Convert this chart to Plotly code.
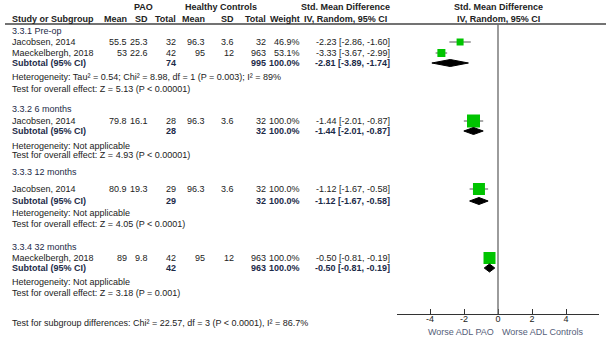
import plotly.graph_objects as go

OFF = 0
W, H = 611, 347
AXIS_Y = 314

# ---------------- data ----------------
subgroups = ["3.3.1 Pre-op", "3.3.2 6 months", "3.3.3 12 months", "3.3.4 32 months"]
studies = [
    ["Jacobsen, 2014", "Maeckelbergh, 2018"],
    ["Jacobsen, 2014"],
    ["Jacobsen, 2014"],
    ["Maeckelbergh, 2018"],
]
pao_mean = [["55.5", "53"], ["79.8"], ["80.9"], ["89"]]
pao_sd = [["25.3", "22.6"], ["16.1"], ["19.3"], ["9.8"]]
pao_n = [["32", "42"], ["28"], ["29"], ["42"]]
hc_mean = [["96.3", "95"], ["96.3"], ["96.3"], ["95"]]
hc_sd = [["3.6", "12"], ["3.6"], ["3.6"], ["12"]]
hc_n = [["32", "963"], ["32"], ["32"], ["963"]]
weights = [["46.9%", "53.1%"], ["100.0%"], ["100.0%"], ["100.0%"]]
smd = [[-2.23, -3.33], [-1.44], [-1.12], [-0.50]]
smd_lo = [[-2.86, -3.67], [-2.01], [-1.67], [-0.81]]
smd_hi = [[-1.60, -2.99], [-0.87], [-0.58], [-0.19]]
sub_pao_n = ["74", "28", "29", "42"]
sub_hc_n = ["995", "32", "32", "963"]
sub_smd = [-2.81, -1.44, -1.12, -0.50]
sub_lo = [-3.89, -2.01, -1.67, -0.81]
sub_hi = [-1.74, -0.87, -0.58, -0.19]
heterogeneity = [
    "Heterogeneity: Tau² = 0.54; Chi² = 8.98, df = 1 (P = 0.003); I² = 89%",
    "Heterogeneity: Not applicable",
    "Heterogeneity: Not applicable",
    "Heterogeneity: Not applicable",
]
overall = [
    "Test for overall effect: Z = 5.13 (P < 0.00001)",
    "Test for overall effect: Z = 4.93 (P < 0.00001)",
    "Test for overall effect: Z = 4.05 (P < 0.0001)",
    "Test for overall effect: Z = 3.18 (P = 0.001)",
]
subgroup_test = "Test for subgroup differences: Chi² = 22.57, df = 3 (P < 0.0001), I² = 86.7%"
x_ticks = [-4, -2, 0, 2, 4]
x_title_left = "Worse ADL PAO"
x_title_right = "Worse ADL Controls"

# ---------------- layout (window pixel rows) ----------------
head_y = [31, 109, 172, 247]
study_y = [[42, 53], [121], [189], [258]]
sub_y = [63, 131, 201, 268]
het_y = [77, 146, 213, 282]
ov_y = [89, 155, 224, 293]
sq_size = [[7, 8], [13], [12], [12]]
dia_h = [7, 7, 7, 8]

FONT = "Liberation Sans, Arial, sans-serif"
FS = 9
TXT = "#222222"
NAVY = "#1c2a48"
GREEN = "#00c400"

fig = go.Figure()
ann = []


def px(x):
    return (x - OFF) / W


def py(y):
    return 1 - (y - OFF) / H


def text(x, y, s, anchor="left", bold=False, color=TXT, size=FS):
    if bold:
        s = "<b>" + s + "</b>"
    ann.append(dict(x=px(x), y=py(y), xref="paper", yref="paper", text=s,
                    showarrow=False, xanchor=anchor, yanchor="middle",
                    borderpad=0, borderwidth=0,
                    font=dict(family=FONT, size=size, color=color)))


# headers
text(143, 7, "PAO", "center", True)
text(221, 7, "Healthy Controls", "center", True)
text(345, 7, "Std. Mean Difference", "center", True)
text(498, 7, "Std. Mean Difference", "center", True)
text(12, 19, "Study or Subgroup", "left", True)
text(127, 19, "Mean", "right", True)
text(148, 19, "SD", "right", True)
text(176, 19, "Total", "right", True)
text(205, 19, "Mean", "right", True)
text(234, 19, "SD", "right", True)
text(266, 19, "Total", "right", True)
text(300, 19, "Weight", "right", True)
text(345, 19, "IV, Random, 95% CI", "center", True)
text(498, 19, "IV, Random, 95% CI", "center", True)

cols = [(127, pao_mean), (148, pao_sd), (176, pao_n), (205, hc_mean),
        (234, hc_sd), (266, hc_n), (300, weights)]

for g in range(len(subgroups)):
    text(12, head_y[g], subgroups[g], "left", False, NAVY)
    for i, name in enumerate(studies[g]):
        yy = study_y[g][i]
        text(12, yy, name)
        for cx, arr in cols:
            text(cx, yy, arr[g][i], "right")
        text(390, yy, f"{smd[g][i]:.2f} [{smd_lo[g][i]:.2f}, {smd_hi[g][i]:.2f}]", "right")
        fig.add_trace(go.Scatter(
            x=[smd[g][i]], y=[yy], mode="markers",
            marker=dict(symbol="square", size=sq_size[g][i], color=GREEN,
                        line=dict(width=0)),
            error_x=dict(type="data", symmetric=False,
                         array=[smd_hi[g][i] - smd[g][i]],
                         arrayminus=[smd[g][i] - smd_lo[g][i]],
                         color="#555555", thickness=1, width=0),
            showlegend=False, hoverinfo="skip"))
    ys = sub_y[g]
    text(12, ys, "Subtotal (95% CI)", "left", True, NAVY)
    text(176, ys, sub_pao_n[g], "right", True, NAVY)
    text(266, ys, sub_hc_n[g], "right", True, NAVY)
    text(300, ys, "100.0%", "right", True, NAVY)
    text(390, ys, f"{sub_smd[g]:.2f} [{sub_lo[g]:.2f}, {sub_hi[g]:.2f}]", "right", True, NAVY)
    h = dia_h[g] / 2
    fig.add_trace(go.Scatter(
        x=[sub_lo[g], sub_smd[g], sub_hi[g], sub_smd[g], sub_lo[g]],
        y=[ys, ys - h, ys, ys + h, ys], mode="lines", fill="toself",
        fillcolor="black", line=dict(color="black", width=1),
        showlegend=False, hoverinfo="skip"))
    text(12, het_y[g], heterogeneity[g])
    text(12, ov_y[g], overall[g])

text(12, 323, subgroup_test)
text(494, 332, x_title_left, "right", False, "#55607a")
text(502, 332, x_title_right, "left", False, "#55607a")

shapes = [
    dict(type="line", xref="paper", yref="paper", x0=px(5), x1=px(606),
         y0=py(24), y1=py(24), line=dict(color="#444444", width=1.5)),
    dict(type="line", xref="x", yref="y", x0=0, x1=0, y0=24, y1=AXIS_Y + 3,
         line=dict(color="#666666", width=1.3)),
]

x0p, x1p = 397, 599
zero_px = 498
unit = 17.0
fig.update_layout(
    width=W, height=H, margin=dict(l=0, r=0, t=0, b=0),
    paper_bgcolor="white", plot_bgcolor="white",
    annotations=ann, shapes=shapes,
    xaxis=dict(domain=[px(x0p), px(x1p)],
               range=[(x0p - zero_px) / unit, (x1p - zero_px) / unit],
               tickvals=x_ticks, ticktext=[str(t) for t in x_ticks],
               ticks="inside", ticklen=5, tickcolor="#333333",
               showline=True, linecolor="#333333", linewidth=1.3,
               showgrid=False, zeroline=False,
               tickfont=dict(family=FONT, size=FS, color=TXT), ticklabelstandoff=-4),
    yaxis=dict(domain=[(H - (AXIS_Y - OFF)) / H, 1], range=[AXIS_Y, OFF],
               visible=False, showgrid=False, zeroline=False),
)

fig.write_html("out.html", config={"displayModeBar": False},
               post_script="document.body.style.margin='0px';document.body.style.overflow='hidden';")
